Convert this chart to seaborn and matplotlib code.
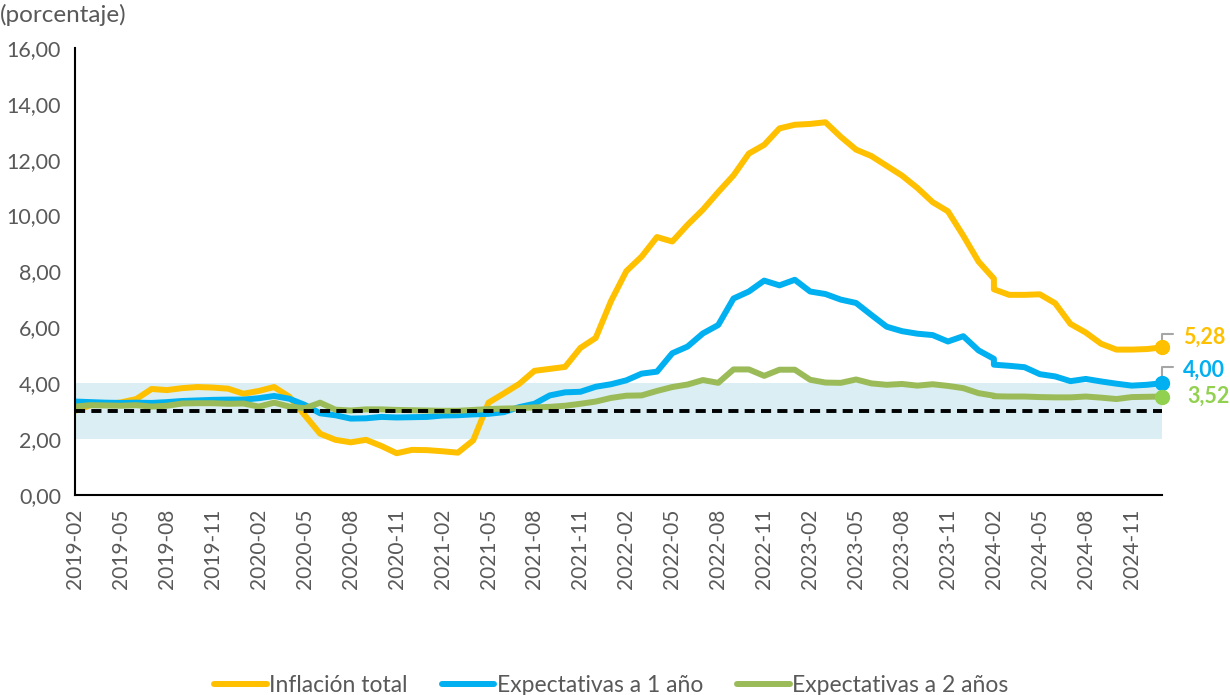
import pandas as pd
import matplotlib.pyplot as plt
import seaborn as sns
from matplotlib.lines import Line2D
from matplotlib.ticker import FuncFormatter

# Months as placed on the chart's axis (the 2024-03 figure sits on the 2024-02 slot)
meses = list(pd.period_range("2019-02", "2024-02", freq="M")) + \
        list(pd.period_range("2024-02", "2025-01", freq="M"))

inflacion_total = [
    3.01, 3.21, 3.25, 3.31, 3.43, 3.79, 3.75, 3.82, 3.86, 3.84, 3.80,
    3.62, 3.72, 3.86, 3.51, 2.85, 2.19, 1.97, 1.88, 1.97, 1.75, 1.49, 1.61,
    1.60, 1.56, 1.51, 1.95, 3.30, 3.63, 3.97, 4.44, 4.51, 4.58, 5.26, 5.62,
    6.94, 8.01, 8.53, 9.23, 9.07, 9.67, 10.21, 10.84, 11.44, 12.22, 12.53, 13.12,
    13.25, 13.28, 13.34, 12.82, 12.36, 12.13, 11.78, 11.43, 10.99, 10.48, 10.15, 9.28,
    8.35, 7.74, 7.36, 7.16, 7.16, 7.18, 6.86, 6.12, 5.81, 5.41, 5.20, 5.20,
    5.22, 5.28,
]

expectativas_1 = [
    3.34, 3.32, 3.30, 3.29, 3.30, 3.29, 3.32, 3.36, 3.38, 3.40, 3.41,
    3.41, 3.46, 3.54, 3.44, 3.22, 2.92, 2.85, 2.73, 2.74, 2.79, 2.77, 2.78,
    2.79, 2.84, 2.85, 2.88, 2.90, 2.96, 3.14, 3.26, 3.56, 3.67, 3.69, 3.87,
    3.96, 4.10, 4.34, 4.41, 5.07, 5.31, 5.78, 6.08, 7.03, 7.28, 7.67, 7.50,
    7.70, 7.28, 7.19, 6.99, 6.87, 6.44, 6.02, 5.86, 5.77, 5.72, 5.49, 5.68,
    5.17, 4.87, 4.66, 4.62, 4.57, 4.32, 4.24, 4.07, 4.15, 4.06, 3.98, 3.91,
    3.94, 4.00,
]

expectativas_2 = [
    3.16, 3.21, 3.20, 3.19, 3.21, 3.16, 3.19, 3.27, 3.28, 3.28, 3.26,
    3.27, 3.16, 3.30, 3.16, 3.10, 3.30, 3.05, 3.02, 3.06, 3.06, 3.04, 3.03,
    3.02, 3.01, 3.01, 3.04, 3.07, 3.09, 3.10, 3.13, 3.15, 3.19, 3.26, 3.34,
    3.47, 3.55, 3.56, 3.72, 3.86, 3.95, 4.11, 4.01, 4.49, 4.49, 4.26, 4.48,
    4.48, 4.12, 4.02, 4.01, 4.13, 3.99, 3.94, 3.97, 3.91, 3.96, 3.90, 3.82,
    3.64, 3.55, 3.53, 3.52, 3.52, 3.50, 3.49, 3.49, 3.52, 3.48, 3.43, 3.50,
    3.51, 3.52,
]

series = ["Inflación total", "Expectativas a 1 año", "Expectativas a 2 años"]
colores = ["#FFC000", "#00B0F0", "#9BBB59"]
colores_punto = ["#FFC000", "#00B0F0", "#92D050"]
meta = 3.0
rango = (2.0, 4.0)

# Long format table
inicio = meses[0]
pos = [(m - inicio).n for m in meses]
df = pd.concat([
    pd.DataFrame({"pos": pos, "valor": v, "serie": s})
    for s, v in zip(series, [inflacion_total, expectativas_1, expectativas_2])
], ignore_index=True)

sns.set_style("white")
plt.rcParams["font.family"] = ["Lato", "DejaVu Sans"]
gris = "#595959"

fig = plt.figure(figsize=(12.3, 6.95), dpi=100)
ax = fig.add_axes([0.061, 0.288, 0.884, 0.643])

x_fin = max(pos)
ax.axhspan(rango[0], rango[1], xmin=0, xmax=1, color="#DAEEF3", zorder=0, lw=0)

sns.lineplot(data=df, x="pos", y="valor", hue="serie", hue_order=series,
             palette=colores, estimator=None, sort=False, linewidth=4.3,
             legend=False, ax=ax, zorder=3)

ax.axhline(meta, color="black", lw=2.8, dashes=(2.6, 1.6), zorder=5)

# End markers and labels
offsets = [(15, 7), (15, 9), (18, 0)]
for s, c, cp, off in zip(series, colores, colores_punto, offsets):
    sub = df[df["serie"] == s]
    xv, yv = sub["pos"].iloc[-1], sub["valor"].iloc[-1]
    if off[1] > 3:
        ax.annotate("", xy=(xv, yv), xytext=(8, off[1] + 2.5), textcoords="offset points",
                    arrowprops=dict(arrowstyle="-", color="#A6A6A6", lw=1.5,
                                    connectionstyle="angle,angleA=0,angleB=90,rad=0",
                                    shrinkA=0, shrinkB=0), zorder=6)
    ax.plot([xv], [yv], "o", color=cp, markersize=10, zorder=7, clip_on=False)
    ax.annotate(f"{yv:.2f}".replace(".", ","), xy=(xv, yv), xytext=off,
                textcoords="offset points", color=cp, fontsize=15.5,
                fontweight="bold", va="center", ha="left", annotation_clip=False)

ax.set_xlim(0, x_fin)
ax.set_ylim(0, 16)
ax.set_yticks(range(0, 17, 2))
ax.yaxis.set_major_formatter(FuncFormatter(lambda v, p: f"{v:.2f}".replace(".", ",")))
tick_pos = list(range(0, x_fin + 1, 3))
ax.set_xticks(tick_pos)
ax.set_xticklabels([str(inicio + t) for t in tick_pos], rotation=90)
ax.set_xlabel("")
ax.set_ylabel("")

for side in ["top", "right"]:
    ax.spines[side].set_visible(False)
for side in ["left", "bottom"]:
    ax.spines[side].set_color("black")
    ax.spines[side].set_linewidth(1.5)
    ax.spines[side].set_zorder(8)
ax.tick_params(axis="both", direction="out", length=6, width=1.5, color="black",
               labelcolor=gris, labelsize=15.5, pad=4)
ax.tick_params(axis="x", labelsize=15)

fig.text(0.0, 0.978, "(porcentaje)", color=gris, fontsize=17.5, va="center", ha="left")

handles = [Line2D([0], [0], color=c, lw=4.3) for c in colores]
fig.legend(handles, series, loc="lower center", bbox_to_anchor=(0.497, -0.031),
           ncol=3, frameon=False, fontsize=16.5, labelcolor=gris, handlelength=2.3,
           handletextpad=0.1, columnspacing=1.5)

fig.savefig("out.png", dpi=100)
